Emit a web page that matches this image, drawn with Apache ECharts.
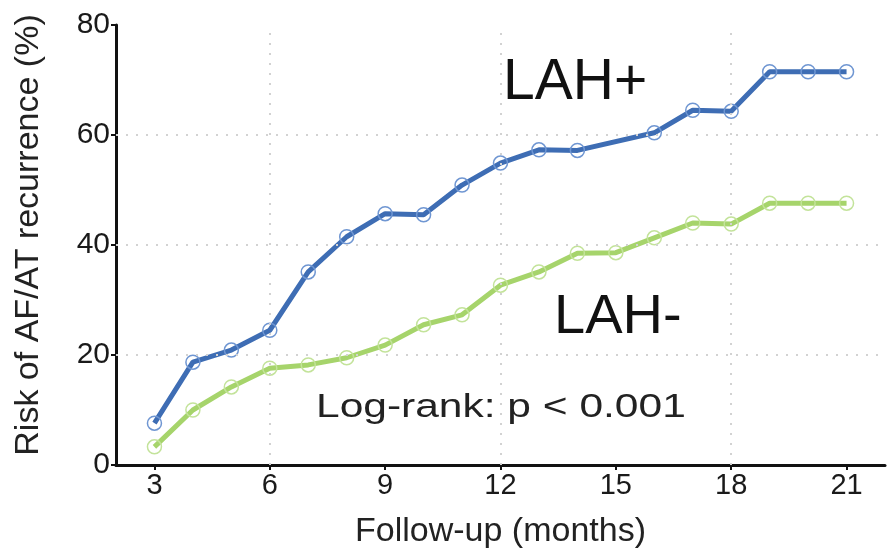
<!DOCTYPE html>
<html>
<head>
<meta charset="utf-8">
<script src="https://cdn.jsdelivr.net/npm/echarts@6/dist/echarts.min.js"></script>
<style>
html,body{margin:0;padding:0;background:#fff;}
#chart{width:888px;height:555px;}
</style>
</head>
<body>
<div id="chart"></div>
<script>
var months = [3,4,5,6,7,8,9,10,11,12,13,14,15,16,17,18,19,20,21];
var lahPos = [7.6,18.7,20.9,24.5,35.1,41.5,45.7,45.5,50.9,54.9,57.3,57.2,null,60.4,64.5,64.3,71.5,71.5,71.5];
var lahNeg = [3.3,10.0,14.2,17.6,18.2,19.5,21.8,25.5,27.3,32.7,35.1,38.5,38.6,41.3,44.0,43.8,47.6,47.6,47.6];
var xTicks = [3,6,9,12,15,18,21];
var gridX = [6,12,18];
var gridY = [20,40,60];

var FONT = "'Liberation Sans', Arial, sans-serif";
function pairs(xs, ys){ return xs.map(function(x,i){ return [x, ys[i]]; }); }

var chart = echarts.init(document.getElementById('chart'), null, {renderer:'canvas'});
var markData = gridX.map(function(v){ return {xAxis:v}; }).concat(gridY.map(function(v){ return {yAxis:v}; }));

chart.setOption({
  animation:false,
  backgroundColor:'#fff',
  grid:{left:116, right:3, top:25, bottom:90, containLabel:false},
  xAxis:{
    type:'value', min:2, max:22,
    name:'Follow-up (months)', nameLocation:'middle', nameGap:50,
    nameTextStyle:{fontFamily:FONT, fontSize:34, color:'#222'},
    axisLine:{show:true, lineStyle:{color:'#111', width:3}},
    axisTick:{show:true, length:5, customValues:xTicks, lineStyle:{color:'#111', width:2}},
    axisLabel:{customValues:xTicks, fontFamily:FONT, fontSize:29, color:'#1a1a1a', margin:6},
    splitLine:{show:false}
  },
  yAxis:{
    type:'value', min:0, max:80, interval:20,
    name:'Risk of AF/AT recurrence (%)', nameLocation:'middle', nameGap:70,
    nameTextStyle:{fontFamily:FONT, fontSize:34, color:'#222', padding:[0,0,0,20]},
    axisLine:{show:true, onZero:false, lineStyle:{color:'#111', width:3}},
    axisTick:{show:true, length:5, lineStyle:{color:'#111', width:2}},
    axisLabel:{fontFamily:FONT, fontSize:30, color:'#1a1a1a', margin:6},
    splitLine:{show:false}
  },
  graphic:[
    {type:'text', left:503, top:55, style:{text:'LAH+', font:'57px ' + FONT, fill:'#111'}},
    {type:'text', left:554, top:290, style:{text:'LAH-', font:'56px ' + FONT, fill:'#111'}},
    {type:'text', left:316, top:391, scaleX:1.25, style:{text:'Log-rank: p < 0.001', font:'34px ' + FONT, fill:'#222'}}
  ],
  series:[
    {
      type:'line', data:[], z:1, silent:true,
      markLine:{
        silent:true, symbol:['none','none'], label:{show:false},
        lineStyle:{type:[2,8], color:'#d2d2d2', width:2},
        emphasis:{disabled:true},
        data:markData
      }
    },
    {
      name:'LAH-', type:'line', z:3, data:pairs(months, lahNeg),
      symbol:'circle', symbolSize:14,
      lineStyle:{color:'#a6d46b', width:5},
      itemStyle:{color:'rgba(0,0,0,0)', borderColor:'#c3e39a', borderWidth:1.5}
    },
    {
      name:'LAH+', type:'line', z:4, data:pairs(months, lahPos), connectNulls:true,
      symbol:'circle', symbolSize:14,
      lineStyle:{color:'#3e6db4', width:5},
      itemStyle:{color:'rgba(0,0,0,0)', borderColor:'#6f96d2', borderWidth:1.5}
    }
  ]
});
</script>
</body>
</html>
